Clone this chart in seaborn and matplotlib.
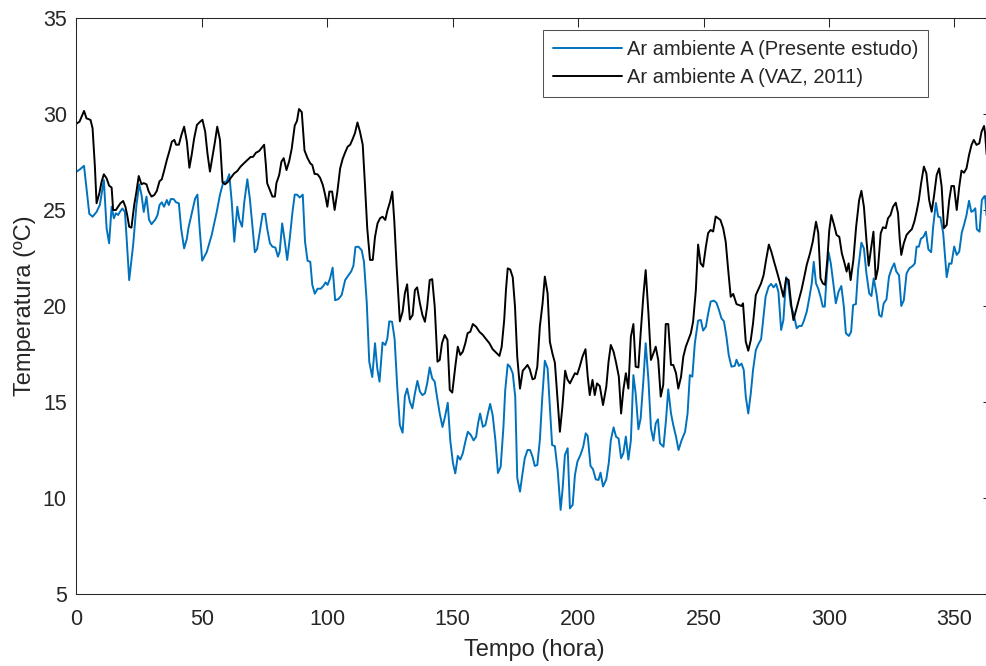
import matplotlib
matplotlib.use("Agg")
import matplotlib.pyplot as plt
import seaborn as sns
import pandas as pd

# ---------------- data ----------------
series_names = ["Ar ambiente A (Presente estudo)", "Ar ambiente A (VAZ, 2011)"]

t_presente = [0.0, 1.2, 3.0, 5.1, 6.4, 8.0, 9.3, 10.9, 12.0, 13.0, 14.0, 14.9, 15.7, 16.6, 17.3, 18.3, 19.3, 19.9,
              21.0, 22.6, 23.9, 25.0, 25.9, 26.8, 27.9, 28.9, 29.9, 31.4, 32.3, 33.1, 34.0, 34.9, 36.0, 36.8, 37.6,
              38.7, 39.7, 40.8, 41.7, 42.9, 44.0, 44.6, 45.9, 47.3, 48.2, 49.0, 50.1, 51.9, 53.9, 55.9, 57.2, 58.5,
              59.9, 60.9, 61.9, 62.9, 64.1, 64.9, 66.0, 66.9, 68.1, 69.1, 70.2, 71.1, 72.0, 73.1, 74.2, 75.2, 76.0,
              77.1, 78.1, 79.3, 80.3, 81.0, 82.0, 82.9, 84.0, 85.0, 86.1, 87.0, 87.9, 89.0, 90.2, 91.1, 92.1, 93.2,
              94.0, 95.0, 96.1, 97.4, 98.5, 99.3, 100.1, 101.1, 102.1, 103.1, 104.4, 105.7, 107.1, 108.4, 109.5,
              110.4, 111.2, 112.4, 113.7, 114.6, 115.7, 116.7, 117.9, 119.0, 119.9, 120.8, 122.0, 123.1, 123.9,
              124.7, 125.8, 126.8, 127.9, 128.9, 130.0, 130.9, 131.8, 132.9, 133.9, 134.9, 135.9, 136.9, 137.9,
              138.9, 139.8, 140.8, 141.8, 142.8, 143.7, 144.8, 145.9, 146.9, 148.0, 149.0, 150.1, 151.0, 152.0,
              153.0, 154.0, 155.0, 156.0, 157.2, 158.3, 159.3, 160.1, 160.9, 162.0, 163.0, 164.0, 164.9, 165.9,
              167.0, 168.0, 169.1, 170.2, 170.9, 171.9, 172.8, 173.9, 174.9, 175.7, 176.8, 177.8, 178.7, 179.8,
              180.8, 181.8, 182.7, 183.7, 184.7, 185.7, 186.7, 187.8, 188.7, 189.6, 190.7, 191.8, 193.0, 193.8,
              194.7, 195.8, 196.7, 197.8, 198.7, 199.7, 200.9, 202.0, 203.0, 203.8, 204.9, 205.9, 207.0, 208.1,
              208.9, 209.9, 211.2, 212.2, 213.0, 214.1, 215.1, 216.1, 217.1, 218.0, 219.0, 220.0, 221.0, 222.0,
              222.9, 224.0, 224.9, 226.0, 226.9, 228.0, 229.0, 230.0, 230.9, 231.8, 232.6, 234.0, 235.0, 235.9,
              237.0, 237.9, 239.0, 240.0, 241.2, 242.6, 243.6, 244.5, 245.5, 246.5, 247.8, 248.9, 249.8, 250.9,
              251.8, 252.8, 254.1, 255.1, 256.1, 257.1, 258.1, 259.1, 260.0, 261.1, 262.4, 263.1, 264.1, 265.1,
              266.0, 266.8, 267.8, 268.8, 269.7, 270.8, 272.0, 272.9, 273.6, 274.7, 275.9, 276.9, 277.9, 278.9,
              279.8, 280.9, 281.8, 282.9, 283.8, 284.7, 285.8, 287.1, 288.1, 289.1, 290.0, 291.1, 292.1, 293.1,
              293.9, 294.8, 295.7, 296.6, 297.5, 298.3, 299.1, 299.8, 300.7, 301.7, 302.7, 303.8, 304.9, 305.9,
              306.7, 307.9, 308.8, 309.6, 310.7, 311.6, 312.9, 313.9, 314.9, 316.0, 316.9, 317.8, 318.9, 320.0,
              320.9, 321.8, 322.9, 323.9, 325.0, 326.0, 326.8, 327.9, 328.8, 329.8, 330.9, 332.0, 333.3, 334.2,
              334.9, 335.8, 336.6, 337.6, 338.6, 339.6, 340.7, 341.5, 342.6, 343.5, 344.4, 345.5, 346.9, 347.9,
              348.8, 349.9, 350.9, 351.9, 352.9, 353.8, 354.8, 355.8, 356.7, 357.5, 358.3, 358.9, 360.0, 360.9,
              361.8, 362.2, 362.8]
temp_presente = [27.0, 27.1, 27.3, 24.8, 24.65, 24.9, 25.26, 26.56, 24.05, 23.27, 25.17, 24.57, 24.83, 24.74, 24.9,
                 25.08, 24.9, 23.7, 21.35, 23.2, 25.26, 26.34, 25.8, 24.9, 25.7, 24.5, 24.26, 24.5, 24.74, 25.26,
                 25.4, 25.17, 25.52, 25.26, 25.57, 25.57, 25.4, 25.35, 24.05, 23.0, 23.5, 24.05, 24.8, 25.6, 25.8,
                 24.2, 22.36, 22.8, 23.7, 24.9, 25.8, 26.44, 26.5, 26.86, 25.4, 23.35, 25.17, 24.5, 24.13, 25.43,
                 26.6, 25.6, 24.05, 22.8, 22.97, 23.87, 24.8, 24.8, 24.05, 23.27, 23.09, 23.04, 22.57, 22.83, 24.3,
                 23.5, 22.4, 23.5, 24.9, 25.8, 25.8, 25.65, 25.8, 23.35, 22.36, 22.3, 21.1, 20.64, 20.9, 20.9, 21.06,
                 21.23, 21.1, 21.44, 22.0, 20.3, 20.36, 20.57, 21.35, 21.6, 21.8, 22.1, 23.07, 23.09, 22.9, 22.3,
                 20.2, 17.1, 16.3, 18.06, 16.75, 16.06, 18.1, 17.97, 18.3, 19.2, 19.18, 18.3, 15.7, 13.8, 13.4, 15.3,
                 15.7, 15.0, 14.67, 15.45, 16.1, 15.54, 15.36, 15.45, 15.97, 16.8, 16.23, 16.06, 15.28, 14.4, 13.7,
                 14.23, 14.96, 13.0, 11.8, 11.28, 12.19, 12.0, 12.33, 12.93, 13.45, 13.28, 13.0, 13.19, 13.9, 14.4,
                 13.71, 13.8, 14.4, 14.9, 14.32, 13.0, 11.3, 11.63, 13.71, 15.6, 16.96, 16.84, 16.5, 15.28, 11.05,
                 10.33, 11.28, 12.07, 12.5, 12.5, 12.15, 11.67, 11.72, 13.0, 15.28, 17.15, 16.75, 14.76, 12.76, 12.7,
                 11.46, 9.38, 10.5, 12.24, 12.59, 9.46, 9.64, 11.2, 11.9, 12.24, 12.67, 13.37, 13.23, 11.67, 11.5,
                 10.97, 10.94, 11.32, 10.6, 10.97, 11.84, 13.0, 13.68, 13.19, 13.1, 12.07, 12.33, 13.2, 12.0, 13.0,
                 16.4, 15.45, 13.58, 14.15, 16.15, 18.06, 16.15, 13.63, 12.99, 13.89, 14.1, 12.85, 12.67, 14.06,
                 15.66, 14.4, 13.8, 13.19, 12.5, 13.0, 13.45, 14.4, 16.4, 16.32, 18.06, 19.24, 19.27, 18.72, 18.92,
                 19.6, 20.23, 20.28, 20.17, 19.8, 19.36, 19.2, 18.4, 17.45, 16.84, 16.88, 17.2, 16.88, 17.0, 16.67,
                 15.28, 14.4, 15.45, 16.67, 17.7, 18.06, 18.26, 19.1, 20.48, 21.0, 21.15, 20.97, 21.15, 20.75, 18.75,
                 19.27, 21.5, 21.1, 20.05, 19.62, 18.84, 18.96, 18.96, 19.24, 19.7, 20.4, 21.18, 22.3, 21.18, 20.9,
                 20.48, 19.97, 19.97, 21.7, 22.8, 22.22, 21.18, 20.14, 20.75, 21.04, 19.97, 18.58, 18.44, 18.66,
                 20.05, 20.1, 21.9, 23.3, 23.0, 21.7, 20.66, 20.52, 21.44, 20.66, 19.53, 19.44, 20.14, 20.35, 21.53,
                 21.96, 22.22, 21.8, 21.6, 20.0, 20.3, 21.7, 21.96, 22.08, 22.22, 23.09, 23.09, 23.5, 23.6, 23.87,
                 22.95, 22.8, 24.13, 25.37, 24.65, 24.62, 23.8, 21.5, 22.22, 22.2, 23.1, 22.66, 22.83, 23.82, 24.22,
                 24.74, 25.48, 24.9, 24.96, 25.09, 24.0, 23.87, 25.52, 25.7, 25.73, 24.7]

t_vaz = [0.0, 1.2, 3.0, 4.0, 4.7, 5.6, 6.4, 7.3, 8.0, 9.1, 10.0, 10.9, 12.0, 13.0, 14.0, 14.6, 15.7, 16.6, 17.5,
         18.6, 19.5, 20.2, 21.0, 21.9, 23.0, 23.9, 24.8, 25.9, 26.8, 27.9, 28.8, 29.9, 31.0, 32.0, 33.1, 34.0, 35.0,
         36.0, 37.1, 38.0, 39.0, 39.7, 40.8, 41.8, 42.9, 44.0, 45.0, 45.9, 46.9, 48.0, 49.3, 50.2, 51.3, 52.2, 53.2,
         54.3, 55.2, 56.1, 57.2, 58.2, 59.2, 60.2, 61.4, 62.8, 64.1, 65.4, 66.7, 68.1, 69.4, 70.4, 71.5, 72.8, 73.9,
         74.8, 75.5, 76.0, 77.1, 78.1, 79.1, 79.7, 80.8, 81.7, 82.6, 83.7, 84.8, 85.8, 87.0, 87.9, 88.7, 89.8, 90.9,
         92.1, 93.2, 94.0, 94.9, 96.1, 97.1, 98.2, 99.1, 100.0, 100.8, 101.9, 102.9, 104.0, 105.1, 106.1, 107.1,
         108.1, 109.1, 110.1, 111.0, 112.0, 113.0, 114.1, 115.0, 115.9, 117.0, 118.1, 119.0, 120.0, 121.0, 122.0,
         123.1, 123.9, 125.0, 125.9, 126.7, 127.6, 128.9, 130.0, 130.9, 131.8, 132.9, 134.0, 134.9, 135.8, 136.9,
         137.9, 138.9, 139.8, 140.8, 141.8, 142.8, 143.9, 144.8, 145.7, 146.8, 147.9, 148.8, 149.8, 151.0, 152.0,
         153.0, 154.0, 155.0, 155.9, 157.0, 158.0, 159.3, 160.6, 162.0, 163.3, 164.6, 165.9, 167.3, 168.6, 169.5,
         170.5, 171.2, 171.9, 172.9, 173.9, 174.8, 175.7, 176.8, 177.9, 178.7, 179.8, 180.7, 181.8, 182.7, 183.7,
         184.7, 185.8, 186.7, 187.8, 188.7, 189.7, 190.7, 191.7, 192.7, 193.7, 194.8, 195.7, 196.7, 197.7, 198.7,
         199.6, 200.6, 201.7, 202.9, 203.8, 204.6, 205.7, 206.6, 207.5, 208.6, 209.9, 211.2, 212.1, 213.0, 214.1,
         215.1, 216.2, 217.1, 218.0, 219.0, 220.0, 221.0, 222.0, 222.9, 224.0, 224.9, 226.0, 226.9, 228.0, 229.0,
         230.0, 230.9, 231.9, 232.9, 233.9, 234.9, 235.9, 237.0, 237.9, 239.0, 239.9, 241.0, 241.9, 242.9, 243.9,
         244.9, 245.8, 246.9, 247.8, 248.8, 249.8, 250.9, 251.8, 252.8, 253.8, 254.8, 255.8, 256.7, 257.8, 258.8,
         259.8, 260.8, 261.8, 263.1, 264.1, 265.1, 265.7, 266.8, 267.8, 268.8, 269.7, 270.8, 272.0, 272.9, 273.9,
         274.9, 276.0, 277.0, 278.1, 279.2, 280.5, 281.8, 282.9, 283.9, 285.0, 285.8, 286.9, 287.9, 289.0, 290.0,
         291.1, 292.4, 293.5, 294.8, 295.7, 296.6, 297.5, 298.4, 299.3, 300.1, 300.9, 302.0, 303.0, 304.1, 305.1,
         306.2, 307.0, 307.8, 308.6, 309.7, 310.8, 312.0, 312.9, 313.9, 314.9, 315.8, 316.7, 317.7, 318.6, 319.5,
         320.6, 321.5, 322.6, 323.5, 324.5, 325.5, 326.6, 327.5, 328.2, 328.8, 329.8, 330.9, 332.0, 333.0, 334.0,
         334.9, 335.8, 336.7, 337.8, 338.8, 339.9, 340.9, 341.8, 342.9, 343.9, 344.9, 345.8, 346.9, 347.9, 348.8,
         349.8, 350.9, 351.9, 352.8, 353.8, 354.8, 355.8, 356.8, 357.7, 358.8, 359.9, 360.8, 361.8, 362.2, 362.8]
temp_vaz = [29.5, 29.6, 30.16, 29.77, 29.74, 29.69, 29.26, 27.34, 25.35, 25.87, 26.47, 26.86, 26.65, 26.27, 26.17,
            25.0, 25.0, 25.17, 25.35, 25.47, 25.17, 24.74, 24.13, 24.08, 25.26, 25.96, 26.77, 26.34, 26.4, 26.34,
            25.96, 25.7, 25.78, 25.99, 26.5, 26.6, 27.08, 27.6, 28.1, 28.56, 28.65, 28.4, 28.4, 28.9, 29.34, 28.56,
            27.2, 27.86, 28.73, 29.43, 29.6, 29.7, 29.08, 27.95, 27.0, 27.86, 28.56, 29.34, 28.65, 26.44, 26.34,
            26.44, 26.65, 26.9, 27.03, 27.26, 27.43, 27.6, 27.76, 27.77, 27.98, 28.07, 28.25, 28.4, 27.34, 26.4,
            26.04, 25.7, 25.7, 26.4, 26.82, 27.52, 27.7, 27.08, 27.55, 28.2, 29.4, 29.64, 30.26, 30.1, 28.1, 27.7,
            27.43, 27.34, 26.88, 26.86, 26.68, 26.3, 25.8, 25.17, 25.96, 25.96, 25.0, 25.96, 27.17, 27.66, 28.0,
            28.3, 28.4, 28.7, 29.0, 29.56, 29.08, 28.4, 26.3, 24.05, 22.4, 22.4, 23.6, 24.3, 24.57, 24.65, 24.48,
            24.95, 25.43, 25.96, 24.4, 22.1, 19.2, 19.7, 20.66, 21.13, 19.3, 19.53, 20.83, 20.97, 20.14, 19.53,
            19.18, 19.97, 21.35, 21.4, 19.97, 17.1, 17.19, 18.06, 18.49, 18.23, 15.63, 15.49, 16.84, 17.88, 17.45,
            17.62, 18.06, 18.58, 18.66, 19.06, 18.92, 18.66, 18.49, 18.27, 18.06, 17.75, 17.57, 17.4, 17.88, 19.27,
            20.83, 21.96, 21.9, 21.5, 19.97, 17.36, 15.7, 16.63, 16.75, 16.93, 16.7, 16.18, 16.23, 16.84, 18.92,
            20.14, 21.53, 20.66, 18.14, 17.54, 17.05, 15.28, 13.45, 14.76, 16.63, 16.18, 15.97, 16.23, 16.5, 16.44,
            16.84, 17.36, 17.75, 16.32, 15.36, 16.15, 15.36, 15.97, 15.83, 14.84, 15.8, 17.1, 17.97, 17.62, 17.05,
            16.32, 14.4, 15.63, 16.5, 15.7, 18.4, 19.06, 16.84, 16.8, 18.58, 20.57, 21.87, 19.62, 17.19, 17.54,
            17.88, 17.19, 15.28, 15.89, 19.06, 19.06, 16.93, 16.93, 16.5, 15.7, 16.32, 17.36, 17.88, 18.23, 18.58,
            19.18, 20.83, 23.2, 22.22, 22.05, 23.09, 23.8, 23.96, 23.88, 24.66, 24.57, 24.48, 24.05, 23.35, 21.87,
            20.48, 20.63, 20.1, 20.05, 20.0, 20.14, 18.14, 17.67, 18.23, 19.1, 20.57, 20.92, 21.18, 21.6, 22.4,
            23.2, 22.83, 22.3, 21.8, 21.18, 20.48, 21.44, 21.35, 19.97, 19.27, 19.8, 20.3, 20.83, 21.44, 22.14,
            22.74, 23.35, 24.39, 23.8, 21.44, 21.18, 21.1, 22.4, 23.96, 24.74, 24.22, 23.7, 23.6, 22.74, 22.22,
            21.79, 22.22, 21.35, 22.4, 24.13, 25.52, 26.0, 25.17, 23.44, 22.1, 22.92, 23.87, 21.39, 21.96, 23.79,
            24.1, 24.05, 24.57, 24.74, 25.17, 25.38, 24.83, 23.44, 22.66, 23.27, 23.7, 23.87, 24.0, 24.39, 24.91,
            25.52, 26.39, 27.26, 26.91, 25.52, 24.91, 25.69, 26.82, 27.17, 26.21, 24.05, 24.22, 25.52, 26.25,
            26.25, 25.0, 26.21, 27.05, 26.94, 27.17, 27.86, 28.39, 28.65, 28.39, 28.47, 29.08, 29.38, 29.0, 27.9]

x_ticks = [0, 50, 100, 150, 200, 250, 300, 350]
y_ticks = [5, 10, 15, 20, 25, 30, 35]

# ---------------- tidy frame ----------------
df = pd.concat([
    pd.DataFrame({"Tempo": t_presente, "Temperatura": temp_presente, "Serie": series_names[0]}),
    pd.DataFrame({"Tempo": t_vaz, "Temperatura": temp_vaz, "Serie": series_names[1]}),
], ignore_index=True)

# ---------------- style ----------------
sns.set_theme(style="white")
plt.rcParams["font.family"] = ["Liberation Sans", "DejaVu Sans"]
ink = "#262626"

fig = plt.figure(figsize=(9.87, 6.66), dpi=100)
# axes extend slightly past the right figure edge (the reference is cropped there)
ax = fig.add_axes([76.5 / 987, 72 / 666, 915.6 / 987, 576 / 666])

sns.lineplot(data=df, x="Tempo", y="Temperatura", hue="Serie",
             hue_order=series_names, palette=["#0072BD", "#000000"],
             estimator=None, sort=False, linewidth=1.4, ax=ax)

ax.set_xlim(0, 365)
ax.set_ylim(5, 35)
ax.set_xticks(x_ticks)
ax.set_yticks(y_ticks)
ax.tick_params(axis="both", which="both", direction="in", length=6.5, width=0.75,
               colors=ink, labelsize=15.5, top=True, right=True)
ax.tick_params(axis="x", pad=11)
ax.tick_params(axis="y", pad=7)
for sp in ax.spines.values():
    sp.set_color(ink)
    sp.set_linewidth(0.75)

ax.set_xlabel("Tempo (hora)", fontsize=17, color=ink, labelpad=6)
ax.set_ylabel("Temperatura (ºC)", fontsize=17, color=ink, labelpad=4.5)

leg = ax.legend(loc="upper right", bbox_to_anchor=(928 / 987, 1 - 30 / 666),
                bbox_transform=fig.transFigure, borderaxespad=0, fontsize=14.5,
                frameon=True, fancybox=False, handlelength=3.4, handletextpad=0.25,
                borderpad=0.5, labelspacing=0.45, title=None)
leg.get_frame().set_edgecolor(ink)
leg.get_frame().set_linewidth(0.75)
for line in leg.get_lines():
    line.set_linewidth(1.4)

fig.savefig("out.png", dpi=100)
